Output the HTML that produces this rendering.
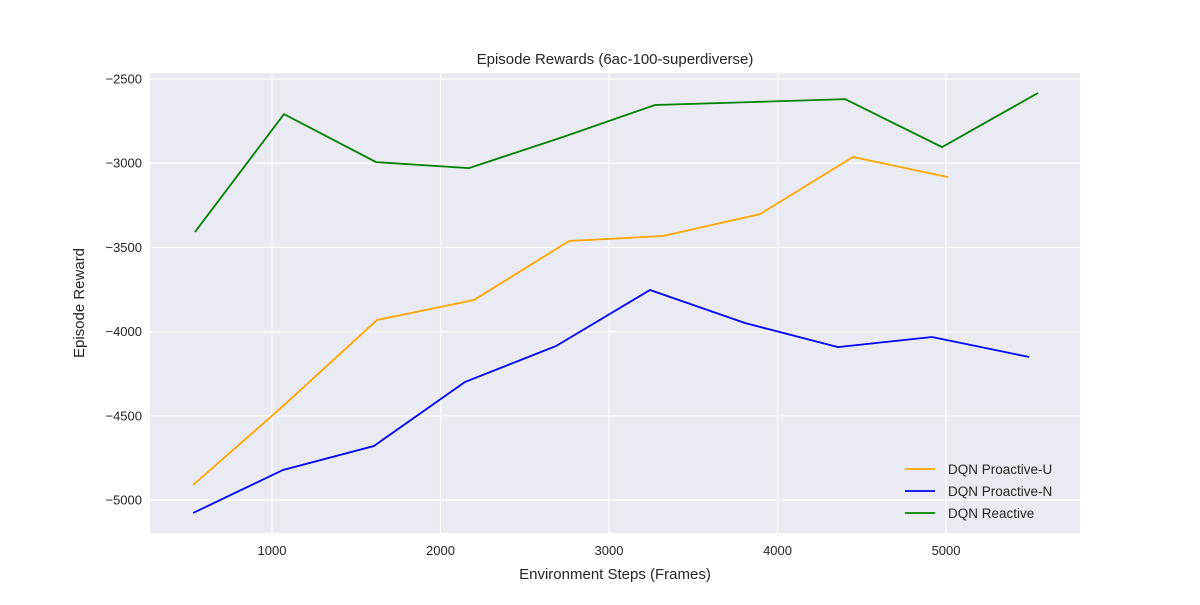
<!DOCTYPE html>
<html><head><meta charset="utf-8"><style>
body{margin:0;background:#fff;font-family:"Liberation Sans",sans-serif;}
</style></head><body>
<svg id="chart" width="1200" height="600" xmlns="http://www.w3.org/2000/svg" font-family="Liberation Sans, sans-serif"></svg>
<script>
const xTicks=[1000,2000,3000,4000,5000];
const yTicks=[-2500,-3000,-3500,-4000,-4500,-5000];
const seriesNames=["DQN Proactive-U","DQN Proactive-N","DQN Reactive"];
const seriesColors=["#ffa500","#0000ff","#008000"];
const uX=[531,1059,1623,2199,2763,3320,3896,4448,5012];
const uY=[-4911,-4448,-3931,-3812,-3462,-3432,-3302,-2963,-3082];
const nX=[531,1065,1605,2145,2685,3243,3807,4359,4917,5493];
const nY=[-5077,-4822,-4679,-4299,-4086,-3753,-3949,-4092,-4032,-4151];
const rX=[543,1071,1617,2169,2727,3273,3837,4401,4976,5546];
const rY=[-3408,-2708,-2993,-3029,-2844,-2654,-2637,-2619,-2904,-2583];

const svg=document.getElementById('chart');
const NS="http://www.w3.org/2000/svg";
const L=150,R=1080,T=73,B=533;
const xMin=276,xMax=5795,yMin=-5196,yMax=-2464;
const sx=v=>L+(v-xMin)/(xMax-xMin)*(R-L);
const sy=v=>B-(v-yMin)/(yMax-yMin)*(B-T);
function mk(tag,attrs,text){const e=document.createElementNS(NS,tag);for(const k in attrs)e.setAttribute(k,attrs[k]);if(text!==undefined)e.textContent=text;svg.appendChild(e);return e;}

let bg=mk('rect',{x:L,y:T,width:R-L,height:B-T,fill:'#eaeaf2'});



xTicks.forEach(t=>{
  let g=mk('line',{x1:sx(t),x2:sx(t),y1:T,y2:B,stroke:'#fff','stroke-width':1.2});
  
  
  let l=mk('text',{x:sx(t),y:B+22,'text-anchor':'middle','font-size':13,fill:'#262626'},t);
  
  
});
yTicks.forEach(t=>{
  let g=mk('line',{x1:L,x2:R,y1:sy(t),y2:sy(t),stroke:'#fff','stroke-width':1.2});
  
  
  let l=mk('text',{x:L-8,y:sy(t)+4.5,'text-anchor':'end','font-size':13,fill:'#262626'},'\u2212'+Math.abs(t));
  
  
});

const data=[[uX,uY],[nX,nY],[rX,rY]];
const lineNames=['line-proactive-u','line-proactive-n','line-reactive'];
data.forEach((d,i)=>{
  const pts=d[0].map((x,j)=>sx(x).toFixed(1)+','+sy(d[1][j]).toFixed(1)).join(' ');
  let p=mk('polyline',{points:pts,fill:'none',stroke:seriesColors[i],'stroke-width':1.8});
  
  
});

let title=mk('text',{x:(L+R)/2,y:64,'text-anchor':'middle','font-size':15,fill:'#262626'},'Episode Rewards (6ac-100-superdiverse)');


let xt=mk('text',{x:(L+R)/2,y:579,'text-anchor':'middle','font-size':15,fill:'#262626'},'Environment Steps (Frames)');


let yt=mk('text',{x:0,y:0,'text-anchor':'middle','font-size':15,fill:'#262626',transform:'translate(84,303) rotate(-90)'},'Episode Reward');



seriesNames.forEach((n,i)=>{
  const y=469+i*22;
  let ln=mk('line',{x1:905,x2:935,y1:y,y2:y,stroke:seriesColors[i],'stroke-width':1.8});
  
  
  let tx=mk('text',{x:948,y:y+5,'font-size':13.5,fill:'#262626'},n);
  
  
});
</script>
</body></html>
